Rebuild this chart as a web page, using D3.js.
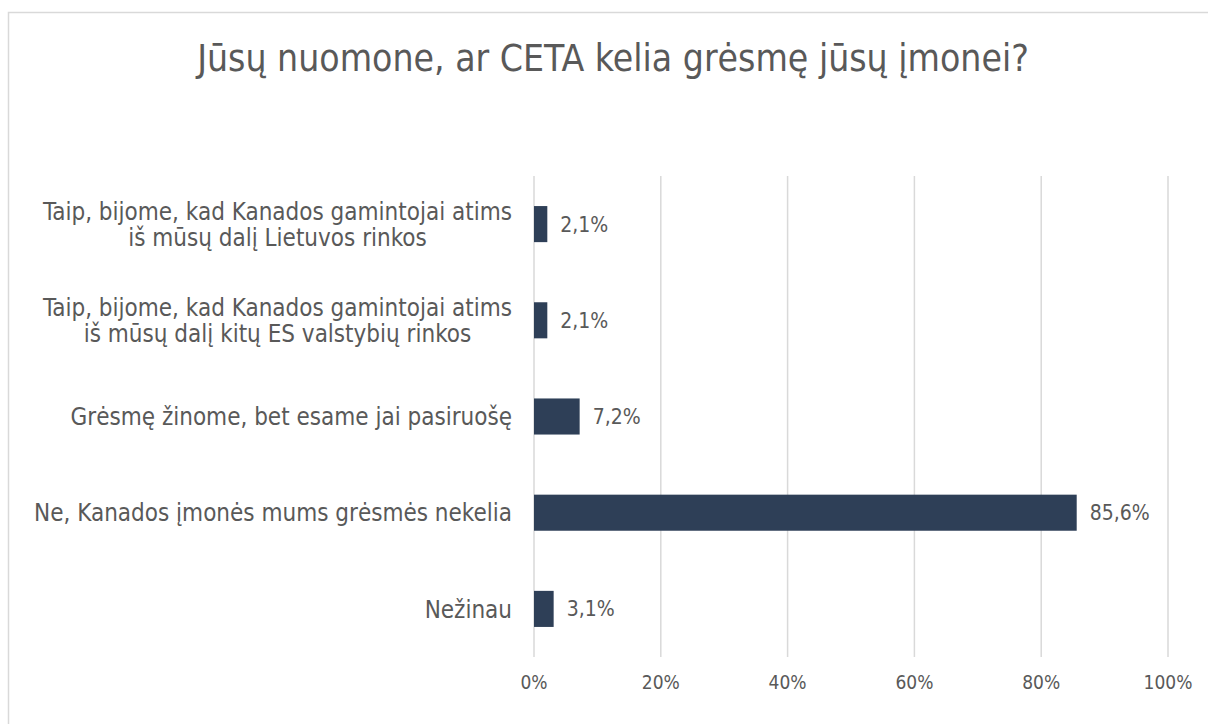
<!DOCTYPE html>
<html>
<head>
<meta charset="utf-8">
<script src="https://cdn.jsdelivr.net/npm/d3@7"></script>
<style>
  body { margin: 0; background: #fff; }
  text { font-family: "DejaVu Sans Condensed", "Liberation Sans Narrow", sans-serif; fill: #595959; }
</style>
</head>
<body>
<div id="chart"></div>
<script>
// answers, top to bottom as shown in the chart
var categories = [
  ["Taip, bijome, kad Kanados gamintojai atims", "iš mūsų dalį Lietuvos rinkos"],
  ["Taip, bijome, kad Kanados gamintojai atims", "iš mūsų dalį kitų ES valstybių rinkos"],
  ["Grėsmę žinome, bet esame jai pasiruošę"],
  ["Ne, Kanados įmonės mums grėsmės nekelia"],
  ["Nežinau"]
];
var values = [2.1, 2.1, 7.2, 85.6, 3.1];
var xTicks = [0, 20, 40, 60, 80, 100];
var title = "Jūsų nuomone, ar CETA kelia grėsmę jūsų įmonei?";

var width = 1208;
var height = 724;

var plotLeft = 534, plotRight = 1168, plotTop = 176, plotBottom = 657;

var svg = d3.select("#chart").append("svg")
  .attr("width", width)
  .attr("height", height);

// frame
svg.append("rect")
  .attr("x", 8.5)
  .attr("y", 12.5)
  .attr("width", width)
  .attr("height", height)
  .attr("fill", "#fff")
  .attr("stroke", "#d9d9d9")
  .attr("stroke-width", 1.5);

svg.append("text")
  .text(title)
  .attr("x", 613)
  .attr("y", 71)
  .attr("text-anchor", "middle")
  .style("font-size", "37px");

var x = d3.scaleLinear().domain([0, 100]).range([plotLeft, plotRight]);

var idx = d3.range(categories.length);
var y = d3.scaleBand().domain(idx).range([plotTop, plotBottom])
  .paddingInner(0.625).paddingOuter(0.3125);

// gridlines
svg.append("g")
  .selectAll("line")
  .data(xTicks)
  .enter().append("line")
  .attr("x1", function(d) { return x(d); })
  .attr("x2", function(d) { return x(d); })
  .attr("y1", plotTop)
  .attr("y2", plotBottom)
  .attr("stroke", "#d9d9d9")
  .attr("stroke-width", 1.5);

// x tick labels
svg.append("g")
  .selectAll("text")
  .data(xTicks)
  .enter().append("text")
  .text(function(d) { return d + "%"; })
  .attr("x", function(d) { return x(d); })
  .attr("y", 689)
  .attr("text-anchor", "middle")
  .style("font-size", "19px");

// bars
svg.append("g")
  .selectAll("rect")
  .data(values)
  .enter().append("rect")
  .attr("x", x(0))
  .attr("y", function(d, i) { return y(i); })
  .attr("width", function(d) { return x(d) - x(0); })
  .attr("height", y.bandwidth())
  .attr("fill", "#2e3f57");

// value labels
svg.append("g")
  .selectAll("text")
  .data(values)
  .enter().append("text")
  .text(function(d) { return d.toFixed(1).replace(".", ",") + "%"; })
  .attr("x", function(d) { return x(d) + 13; })
  .attr("y", function(d, i) { return y(i) + y.bandwidth() / 2; })
  .attr("dy", "0.36em")
  .style("font-size", "21px");

// category labels, lines centred on each other, block right-aligned
var labelRight = 512;
var lineH = 26;
categories.forEach(function(lines, i) {
  var g = svg.append("g");
  var t = g.selectAll("text")
    .data(lines)
    .enter().append("text")
    .text(function(d) { return d; })
    .attr("text-anchor", "middle")
    .attr("dy", "0.36em")
    .style("font-size", "24px");
  var maxW = 0;
  t.each(function() { maxW = Math.max(maxW, this.getComputedTextLength()); });
  var cy = y(i) + y.bandwidth() / 2;
  t.attr("x", labelRight - maxW / 2)
   .attr("y", function(d, j) { return cy + (j - (lines.length - 1) / 2) * lineH; });
});
</script>
</body>
</html>
